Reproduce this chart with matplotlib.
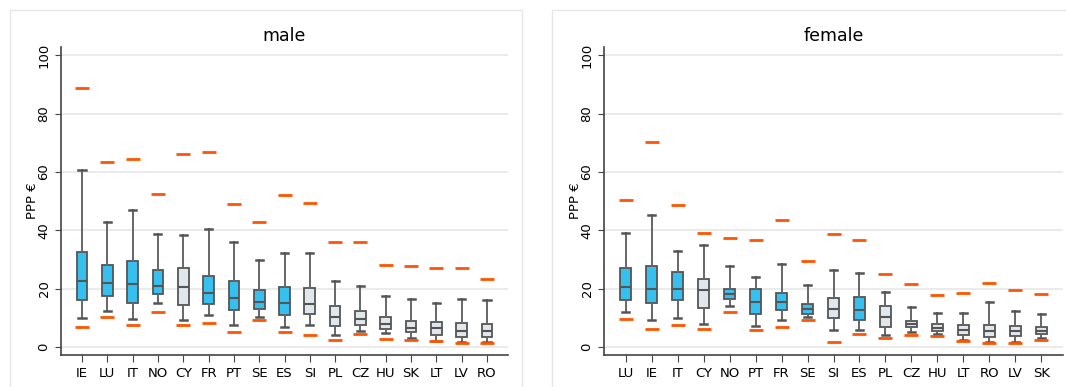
import matplotlib.pyplot as plt
from matplotlib.patches import Rectangle

# male panel
male_countries = ['IE', 'LU', 'IT', 'NO', 'CY', 'FR', 'PT', 'SE', 'ES', 'SI',
                  'PL', 'CZ', 'HU', 'SK', 'LT', 'LV', 'RO']
male_whislo = [9.9, 12.3, 9.6, 15.0, 9.3, 11.0, 7.4, 10.4, 6.9, 7.4, 4.1, 5.6, 4.6, 3.2, 2.1, 1.7, 1.7]
male_q1 = [15.9, 17.3, 15.1, 18.1, 14.3, 14.6, 12.5, 12.9, 10.9, 11.2, 7.1, 7.4, 6.2, 5.0, 3.9, 3.5, 3.5]
male_med = [22.5, 21.9, 21.6, 20.7, 20.5, 18.4, 16.8, 15.4, 15.0, 14.7, 10.2, 9.4, 7.8, 6.5, 6.4, 5.5, 5.3]
male_q3 = [32.6, 28.1, 29.3, 26.5, 27.2, 24.3, 22.7, 19.5, 20.5, 20.2, 13.9, 12.3, 10.1, 8.9, 8.6, 8.2, 7.9]
male_whishi = [60.6, 42.9, 46.9, 38.6, 38.3, 40.3, 35.9, 29.8, 32.3, 32.3, 22.5, 20.8, 17.3, 16.3, 15.1, 16.3, 16.2]
male_hi = [88.8, 63.5, 64.5, 52.3, 66.1, 66.7, 49.0, 42.7, 52.0, 49.4, 35.9, 35.8, 28.1, 27.7, 26.9, 26.9, 23.3]
male_lo = [6.7, 10.2, 7.4, 12.0, 7.4, 8.3, 5.0, 9.1, 5.0, 4.1, 2.4, 4.5, 2.6, 2.3, 1.9, 1.4, 1.4]
male_blue = ['IE', 'LU', 'IT', 'NO', 'FR', 'PT', 'SE', 'ES']

# female panel
female_countries = ['LU', 'IE', 'IT', 'CY', 'NO', 'PT', 'FR', 'SE', 'SI', 'ES',
                    'PL', 'CZ', 'HU', 'LT', 'RO', 'LV', 'SK']
female_whislo = [11.8, 9.1, 9.9, 7.9, 14.1, 7.0, 9.3, 10.2, 5.9, 5.9, 4.1, 5.0, 4.5, 2.2, 1.6, 1.7, 3.2]
female_q1 = [15.9, 14.9, 16.1, 13.3, 16.3, 11.1, 12.6, 11.4, 9.8, 9.1, 6.7, 6.7, 5.6, 4.0, 3.5, 3.7, 4.3]
female_med = [20.6, 19.9, 19.8, 19.4, 18.1, 15.4, 15.3, 13.0, 12.9, 12.8, 10.1, 7.8, 6.5, 5.9, 5.4, 5.3, 5.4]
female_q3 = [26.9, 27.8, 25.7, 23.4, 19.9, 19.7, 18.5, 14.7, 16.7, 17.1, 13.9, 8.8, 7.7, 7.4, 7.5, 7.2, 6.7]
female_whishi = [38.9, 45.3, 32.8, 34.9, 27.8, 24.0, 28.5, 21.1, 26.3, 25.3, 18.7, 13.8, 11.5, 11.5, 15.3, 12.3, 11.2]
female_hi = [50.4, 70.2, 48.7, 39.0, 37.3, 36.5, 43.5, 29.5, 38.6, 36.8, 24.9, 21.5, 17.7, 18.5, 21.8, 19.4, 18.1]
female_lo = [9.5, 6.1, 7.4, 6.1, 11.9, 5.7, 6.9, 9.1, 1.6, 4.5, 2.9, 4.2, 3.8, 1.9, 1.3, 1.4, 2.4]
female_blue = ['LU', 'IE', 'IT', 'NO', 'PT', 'FR', 'SE', 'ES']

BLUE = '#35c0f0'
GREY = '#e0e7ed'
EDGE = '#555555'
RED = '#ff5500'

plt.rcParams['font.family'] = ['DejaVu Sans']


def panel(ax, title, countries, whislo, q1, med, q3, whishi, hi, lo, blue):
    stats = []
    for i, c in enumerate(countries):
        stats.append(dict(label=c, whislo=whislo[i], q1=q1[i], med=med[i],
                          q3=q3[i], whishi=whishi[i], fliers=[]))
    pos = list(range(len(countries)))
    bp = ax.bxp(stats, positions=pos, widths=0.42, capwidths=0.28,
                patch_artist=True, showfliers=False,
                boxprops=dict(edgecolor=EDGE, linewidth=1.3),
                medianprops=dict(color=EDGE, linewidth=1.5),
                whiskerprops=dict(color='#666666', linewidth=1.4),
                capprops=dict(color=EDGE, linewidth=1.8))
    for patch, c in zip(bp['boxes'], countries):
        patch.set_facecolor(BLUE if c in blue else GREY)
    # min / max markers
    ax.plot(pos, hi, ls='none', marker='_', ms=9.5, mew=2, color=RED, zorder=3)
    ax.plot(pos, lo, ls='none', marker='_', ms=9.5, mew=2, color=RED, zorder=3)

    ax.set_xlim(-0.83, len(countries) - 0.17)
    ax.set_ylim(-2.8, 102.8)
    ax.set_yticks([0, 20, 40, 60, 80, 100])
    ax.set_xticks(pos)
    ax.set_xticklabels(countries, fontsize=9.5)
    ax.tick_params(axis='y', labelsize=9.5, rotation=90, length=4, color='#444444')
    ax.tick_params(axis='x', length=5, color='#444444')
    for lab in ax.get_yticklabels():
        lab.set_verticalalignment('center')
    ax.grid(axis='y', color='#e8e8e8', linewidth=1.2)
    ax.set_axisbelow(True)
    for s in ['top', 'right']:
        ax.spines[s].set_visible(False)
    for s in ['left', 'bottom']:
        ax.spines[s].set_color('#444444')
        ax.spines[s].set_linewidth(1.2)
    ax.set_ylabel('PPP €', fontsize=9.5, labelpad=-1)
    ax.set_title(title, fontsize=12.5, pad=4)


fig = plt.figure(figsize=(10.66, 3.87), dpi=100)
W, H = 1066, 387

# light frames around each panel
fig.add_artist(Rectangle((10 / W, -0.1), 512 / W, 1.1 - 10 / H, transform=fig.transFigure,
                         fill=False, edgecolor='#e6e6e6', linewidth=1))
fig.add_artist(Rectangle((552 / W, -0.1), 0.6, 1.1 - 10 / H, transform=fig.transFigure,
                         fill=False, edgecolor='#e6e6e6', linewidth=1))

ax1 = fig.add_axes([61 / W, 1 - 355 / H, 447 / W, 308 / H])
ax2 = fig.add_axes([604 / W, 1 - 355 / H, 459 / W, 308 / H])

panel(ax1, 'male', male_countries, male_whislo, male_q1, male_med, male_q3,
      male_whishi, male_hi, male_lo, male_blue)
panel(ax2, 'female', female_countries, female_whislo, female_q1, female_med, female_q3,
      female_whishi, female_hi, female_lo, female_blue)

fig.savefig('out.png', dpi=100)
